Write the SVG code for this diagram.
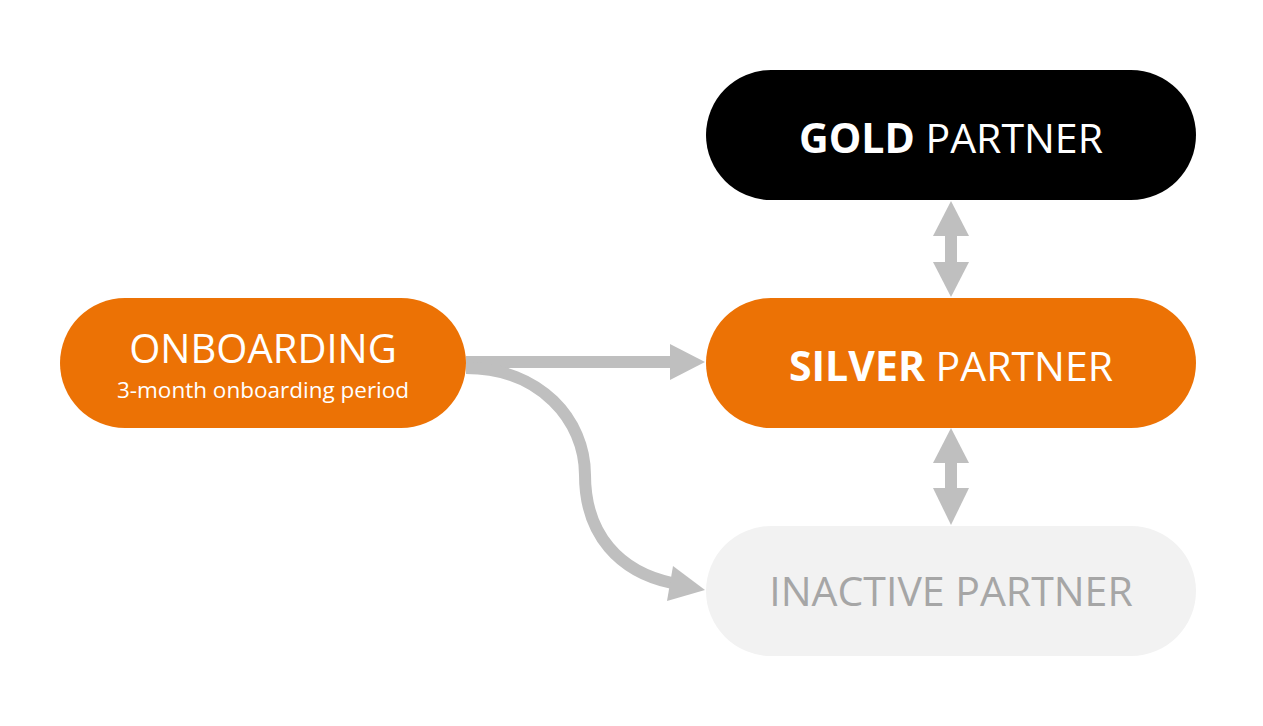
<svg xmlns="http://www.w3.org/2000/svg" width="1263" height="726" viewBox="0 0 1263 726">
<style>
.lbl{font-family:"Open Sans","Liberation Sans",sans-serif;text-anchor:middle}
.big{font-size:41px}
.b{font-weight:700}
.w{fill:#ffffff}
.conn{fill:none;stroke:#bfbfbf;stroke-width:12}
.head{fill:#bfbfbf}
</style>
<rect width="1263" height="726" fill="#ffffff"/>
<g id="connectors">
  <path class="conn" d="M466,362 H674"/>
  <polygon class="head" points="705,362 670,344 670,380"/>
  <path class="conn" d="M466,368 C540,368 585,420 585,475 C585,535 620,572 672,583"/>
  <polygon class="head" points="705,590 673,566 667,601"/>
  <rect class="head" x="945" y="234" width="12" height="30"/>
  <polygon class="head" points="951,201 933,236 969,236"/>
  <polygon class="head" points="951,297 933,262 969,262"/>
  <rect class="head" x="945" y="461" width="12" height="29"/>
  <polygon class="head" points="951,428 933,463 969,463"/>
  <polygon class="head" points="951,525 933,488 969,488"/>
</g>
<g id="onboarding">
  <rect x="60" y="298" width="406" height="130" rx="65" fill="#ec7205"/>
  <text class="lbl w" x="263" y="363" font-size="40">ONBOARDING</text>
  <text class="lbl w" x="263" y="398" font-size="22.5">3-month onboarding period</text>
</g>
<g id="gold">
  <rect x="706" y="70" width="490" height="130" rx="65" fill="#000000"/>
  <text class="lbl big w" x="951" y="153"><tspan class="b">GOLD</tspan> PARTNER</text>
</g>
<g id="silver">
  <rect x="706" y="298" width="490" height="130" rx="65" fill="#ec7205"/>
  <text class="lbl big w" x="951" y="381"><tspan class="b">SILVER</tspan> PARTNER</text>
</g>
<g id="inactive">
  <rect x="706" y="526" width="490" height="130" rx="65" fill="#f2f2f2"/>
  <text class="lbl big" x="951" y="606" fill="#a6a6a6">INACTIVE PARTNER</text>
</g>
</svg>
